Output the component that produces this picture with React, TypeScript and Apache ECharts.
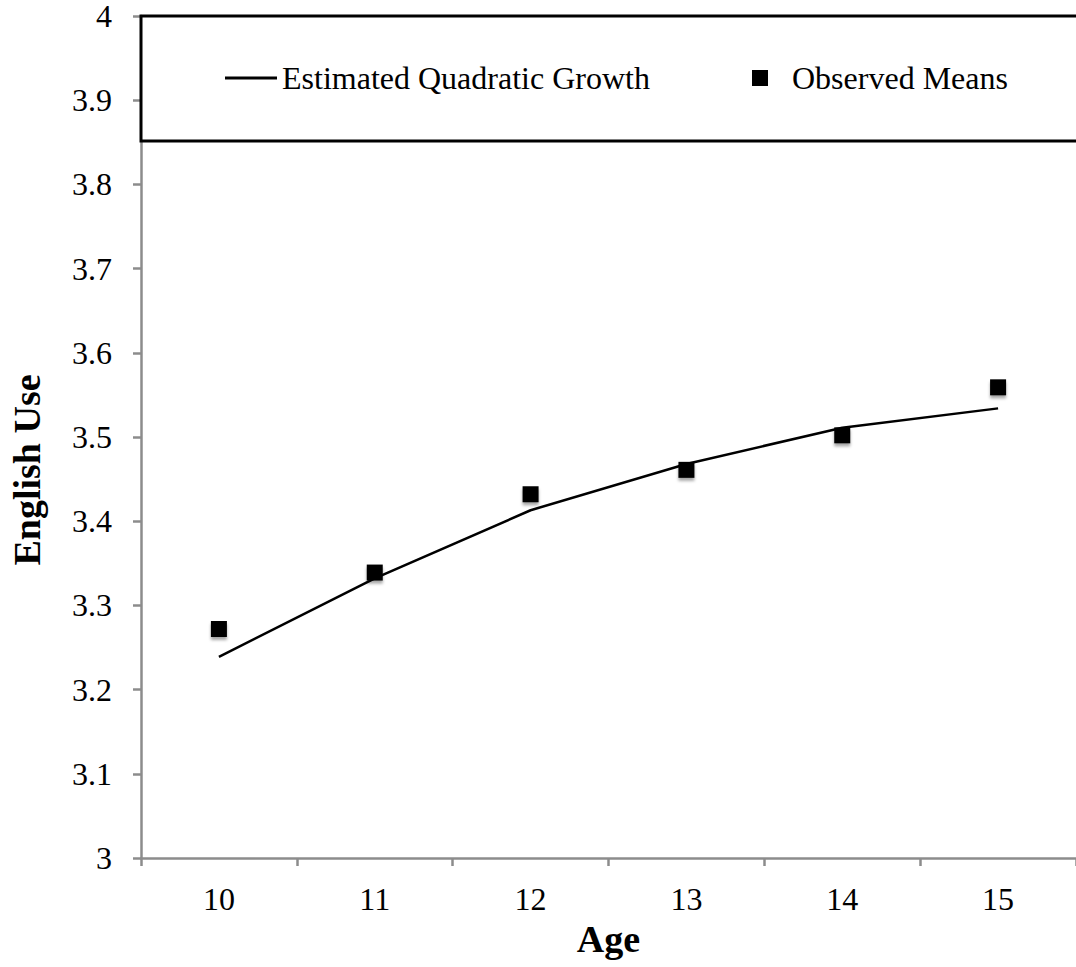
import React, { useEffect, useRef } from "react";
import * as echarts from "echarts";

// Ages on the horizontal axis
const ages: string[] = ["10", "11", "12", "13", "14", "15"];
// Fitted quadratic growth curve
const estimatedGrowth: number[] = [3.239, 3.332, 3.413, 3.468, 3.511, 3.534];
// Observed mean English use at each age
const observedMeans: number[] = [3.272, 3.339, 3.432, 3.461, 3.502, 3.559];

const FONT = "'Liberation Serif', 'Times New Roman', serif";
const AXIS_GRAY = "#8c8c8c";

export default function App() {
  const ref = useRef<HTMLDivElement>(null);

  useEffect(() => {
    if (!ref.current) return;
    const chart = echarts.init(ref.current, undefined, { renderer: "svg" });
    chart.setOption({
      animation: false,
      backgroundColor: "#ffffff",
      grid: { left: 141, right: -3, top: 16, bottom: 109, containLabel: false },
      xAxis: {
        type: "category",
        data: ages,
        boundaryGap: true,
        name: "Age",
        nameLocation: "middle",
        nameGap: 62,
        nameTextStyle: { fontFamily: FONT, fontSize: 38, fontWeight: "bold", color: "#000" },
        axisLine: { lineStyle: { color: AXIS_GRAY, width: 2.5 } },
        axisTick: { show: true, length: 8, lineStyle: { color: AXIS_GRAY, width: 2.5 } },
        axisLabel: { fontFamily: FONT, fontSize: 32, color: "#000", margin: 25 },
        splitLine: { show: false },
      },
      yAxis: {
        type: "value",
        min: 3,
        max: 4,
        interval: 0.1,
        axisLine: { show: true, lineStyle: { color: AXIS_GRAY, width: 2.5 } },
        axisTick: { show: true, length: 8, lineStyle: { color: AXIS_GRAY, width: 2.5 } },
        axisLabel: {
          fontFamily: FONT,
          fontSize: 32,
          color: "#000",
          margin: 29,
          formatter: (v: number) => String(Math.round(v * 10) / 10),
        },
        splitLine: { show: false },
      },
      legend: [
        {
          data: [{ name: "Estimated Quadratic Growth", icon: "rect" }],
          left: 225,
          top: 62,
          padding: 0,
          itemWidth: 52,
          itemHeight: 3,
          textStyle: { fontFamily: FONT, fontSize: 32, color: "#000" },
          z: 10,
        },
        {
          data: [{ name: "Observed Means", icon: "rect" }],
          left: 752,
          top: 62,
          padding: 0,
          itemWidth: 16,
          itemHeight: 16,
          textStyle: { fontFamily: FONT, fontSize: 32, color: "#000", padding: [0, 0, 0, 19] },
          z: 10,
        },
      ],
      graphic: [
        {
          type: "rect",
          z: 5,
          shape: { x: 141, y: 16, width: 945, height: 125 },
          style: { fill: "#ffffff", stroke: "#000000", lineWidth: 3 },
        },
        {
          type: "text",
          x: 27,
          y: 470,
          rotation: Math.PI / 2,
          style: {
            text: "English Use",
            fontFamily: FONT,
            fontSize: 38,
            fontWeight: "bold",
            fill: "#000",
            align: "center",
            verticalAlign: "middle",
          },
        },
      ],
      series: [
        {
          name: "Estimated Quadratic Growth",
          type: "line",
          data: estimatedGrowth,
          symbol: "none",
          lineStyle: { color: "#000", width: 2.5 },
          itemStyle: { color: "#000" },
          z: 2,
        },
        {
          name: "Observed Means",
          type: "scatter",
          data: observedMeans,
          symbol: "rect",
          symbolSize: 16,
          itemStyle: {
            color: "#000",
            opacity: 1,
            shadowColor: "rgba(0,0,0,0.35)",
            shadowBlur: 3,
            shadowOffsetY: 3,
          },
          z: 3,
        },
      ],
    });
    return () => chart.dispose();
  }, []);

  return (
    <div
      ref={ref}
      style={{ position: "absolute", left: 0, top: 0, width: 1076, height: 967 }}
    />
  );
}
